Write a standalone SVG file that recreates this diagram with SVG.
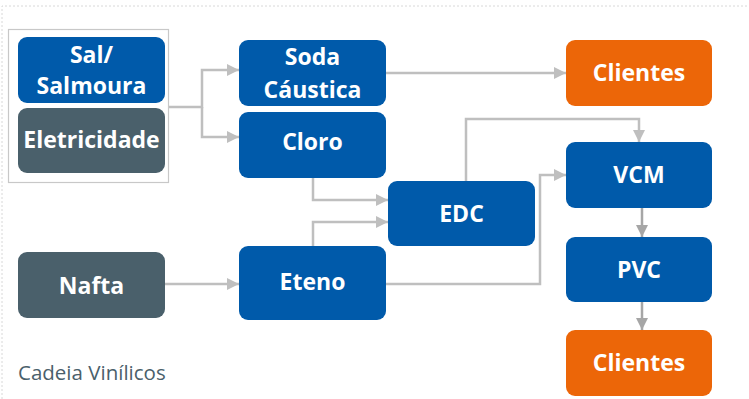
<svg xmlns="http://www.w3.org/2000/svg" width="749" height="399" viewBox="0 0 749 399">
<defs>
<marker id="ah" viewBox="0 0 10 10" refX="10" refY="5" markerWidth="12" markerHeight="12" markerUnits="userSpaceOnUse" orient="auto"><path d="M0,0 L10,5 L0,10 z" fill="#bfbfbf"/></marker>
<marker id="ahd" viewBox="0 0 10 10" refX="10" refY="5" markerWidth="12" markerHeight="12" markerUnits="userSpaceOnUse" orient="auto"><path d="M0,0 L10,5 L0,10 z" fill="#a6a6a6"/></marker>
</defs>
<style>
.blue{fill:#005aaa}
.slate{fill:#4a606b}
.orange{fill:#ec6608}
.t{font-family:"Open Sans","Liberation Sans",sans-serif;font-weight:bold;font-size:23px;fill:#ffffff;text-anchor:middle}
.c{fill:none;stroke:#bfbfbf;stroke-width:2.5}
.cd{fill:none;stroke:#a6a6a6;stroke-width:2.5}
</style>
<rect width="749" height="399" fill="#ffffff"/>
<path d="M2,399 L2,6 L749,6" fill="none" stroke="#d8d8d8" stroke-width="1" stroke-dasharray="2,2"/>
<rect x="8.5" y="29.5" width="160" height="153" fill="#ffffff" stroke="#c8c8c8" stroke-width="1.2"/>
<g id="connectors">
<path class="c" d="M169,107 H202 V70 H239" marker-end="url(#ah)"/>
<path class="c" d="M202,107 V137 H239" marker-end="url(#ah)"/>
<path class="c" d="M386,73 H566" marker-end="url(#ah)"/>
<path class="c" d="M313,178 V200 H388" marker-end="url(#ah)"/>
<path class="c" d="M313,246 V222 H388" marker-end="url(#ah)"/>
<path class="c" d="M466,181 V119 H639 V142" marker-end="url(#ah)"/>
<path class="c" d="M386,284 H540 V175 H566" marker-end="url(#ah)"/>
<path class="c" d="M165,284 H239" marker-end="url(#ah)"/>
<path class="cd" d="M642,208 V237" marker-end="url(#ahd)"/>
<path class="cd" d="M642,302 V330" marker-end="url(#ahd)"/>
</g>
<g id="sal"><rect class="blue" x="18" y="37" width="147" height="66" rx="9"/><text class="t" x="91.5" y="63">Sal/</text><text class="t" x="91.5" y="94">Salmoura</text></g>
<g id="eletricidade"><rect class="slate" x="18" y="108" width="147" height="65" rx="9"/><text class="t" x="91.5" y="148">Eletricidade</text></g>
<g id="soda"><rect class="blue" x="239" y="40" width="147" height="66" rx="9"/><text class="t" x="312.5" y="65">Soda</text><text class="t" x="312.5" y="98">Cáustica</text></g>
<g id="cloro"><rect class="blue" x="239" y="112" width="147" height="66" rx="9"/><text class="t" x="312.5" y="150">Cloro</text></g>
<g id="edc"><rect class="blue" x="388" y="181" width="147" height="65" rx="9"/><text class="t" x="461.5" y="222">EDC</text></g>
<g id="nafta"><rect class="slate" x="18" y="252" width="147" height="66" rx="9"/><text class="t" x="91.5" y="294">Nafta</text></g>
<g id="eteno"><rect class="blue" x="239" y="246" width="147" height="74" rx="9"/><text class="t" x="312.5" y="290">Eteno</text></g>
<g id="clientes1"><rect class="orange" x="566" y="40" width="146" height="66" rx="9"/><text class="t" x="639" y="81">Clientes</text></g>
<g id="vcm"><rect class="blue" x="566" y="142" width="146" height="66" rx="9"/><text class="t" x="639" y="183">VCM</text></g>
<g id="pvc"><rect class="blue" x="566" y="237" width="146" height="65" rx="9"/><text class="t" x="639" y="278">PVC</text></g>
<g id="clientes2"><rect class="orange" x="566" y="330" width="146" height="66" rx="9"/><text class="t" x="639" y="371">Clientes</text></g>
<text x="18" y="380" font-family="Open Sans, Liberation Sans, sans-serif" font-size="20.5" fill="#4a606b">Cadeia Vinílicos</text>
</svg>
